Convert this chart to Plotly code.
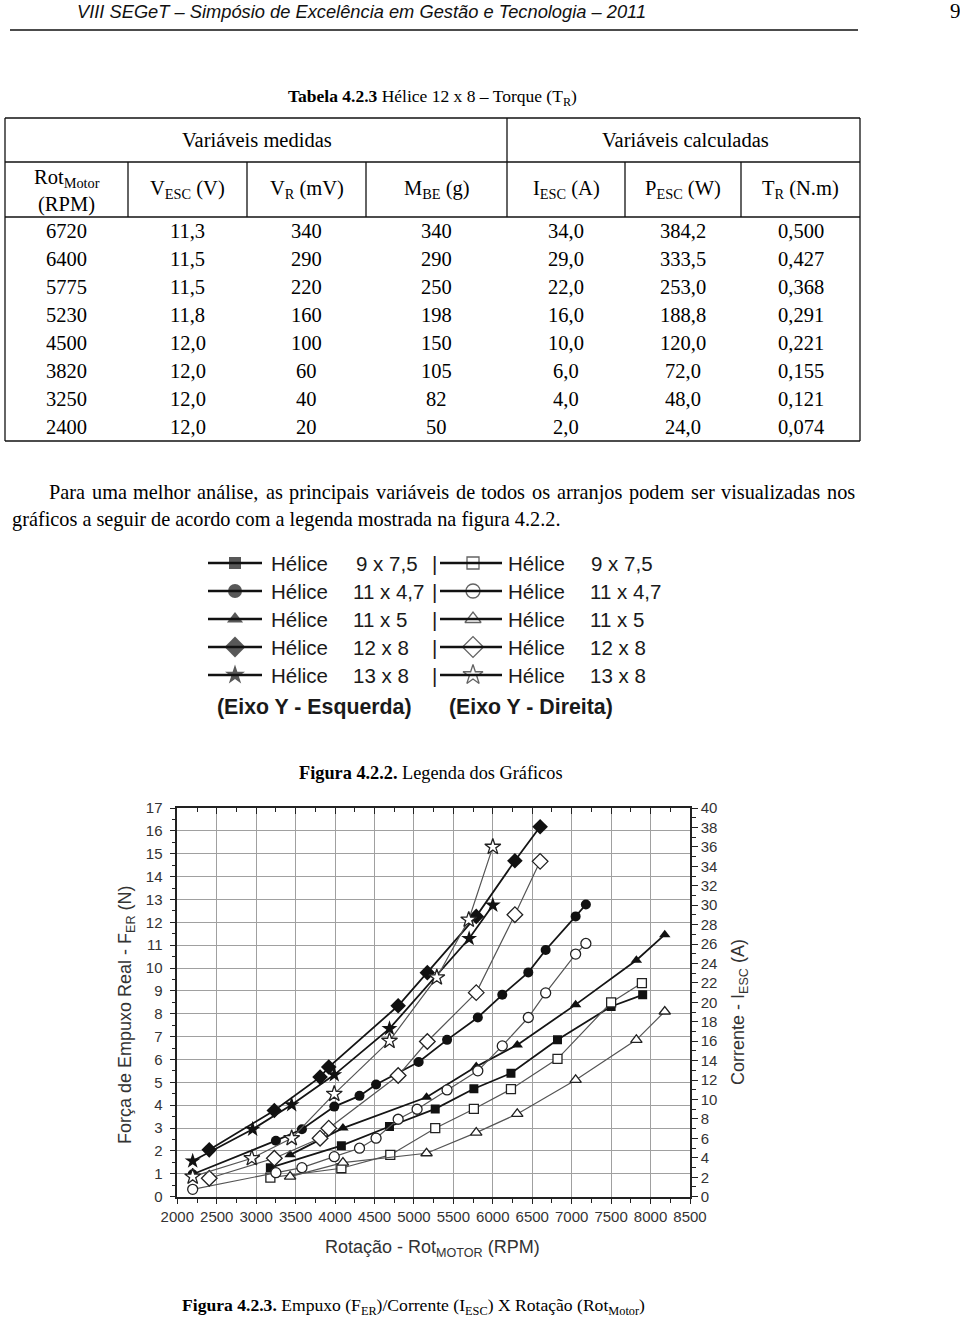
import plotly.graph_objects as go

W, H = 960, 1317
SERIF = "Liberation Serif"
SANS = "Liberation Sans"

# ---------------- Tabela 4.2.3 data ----------------
rot_motor = ["6720", "6400", "5775", "5230", "4500", "3820", "3250", "2400"]
v_esc = ["11,3", "11,5", "11,5", "11,8", "12,0", "12,0", "12,0", "12,0"]
v_r = ["340", "290", "220", "160", "100", "60", "40", "20"]
m_be = ["340", "290", "250", "198", "150", "105", "82", "50"]
i_esc = ["34,0", "29,0", "22,0", "16,0", "10,0", "6,0", "4,0", "2,0"]
p_esc = ["384,2", "333,5", "253,0", "188,8", "120,0", "72,0", "48,0", "24,0"]
t_r = ["0,500", "0,427", "0,368", "0,291", "0,221", "0,155", "0,121", "0,074"]
col_headers = ["V<sub>ESC</sub> (V)", "V<sub>R</sub> (mV)", "M<sub>BE</sub> (g)",
               "I<sub>ESC</sub> (A)", "P<sub>ESC</sub> (W)", "T<sub>R</sub> (N.m)"]

# ---------------- Figure 4.2.3 data ----------------
# Force (N) - left axis (filled markers)
rpm_9x75 = [3180, 4080, 4690, 5270, 5760, 6230, 6820, 7500, 7900]
f_9x75 = [1.27, 2.23, 3.07, 3.84, 4.72, 5.40, 6.86, 8.32, 8.83]
rpm_11x47 = [2195, 3250, 3580, 3990, 4310, 4520, 5060, 5420, 5810, 6120, 6450, 6670, 7050, 7180]
f_11x47 = [0.98, 2.45, 2.95, 3.94, 4.41, 4.91, 5.89, 6.86, 7.84, 8.83, 9.81, 10.79, 12.26, 12.78]
rpm_11x5 = [3430, 4100, 5160, 5790, 6310, 7050, 7820, 8180]
f_11x5 = [1.83, 3.00, 4.35, 5.69, 6.64, 8.40, 10.34, 11.46]
rpm_12x8 = [2405, 3230, 3810, 3920, 4800, 5170, 5790, 6280, 6600]
f_12x8 = [2.05, 3.77, 5.23, 5.67, 8.35, 9.80, 12.26, 14.69, 16.18]
rpm_13x8 = [2195, 2955, 3450, 3990, 4690, 5700, 6000]
f_13x8 = [1.56, 2.95, 4.02, 5.33, 7.35, 11.29, 12.75]

# Current (A) - right axis (open markers)
rpm_9x75_i = [3180, 4080, 4700, 5270, 5760, 6230, 6820, 7500, 7890]
i_9x75 = [1.96, 2.93, 4.30, 7.05, 9.03, 11.06, 14.19, 19.99, 21.98]
rpm_11x47_i = [2195, 3250, 3580, 3990, 4310, 4520, 4800, 5040, 5420, 5810, 6120, 6450, 6670, 7050, 7180]
i_11x47 = [0.76, 2.47, 2.99, 4.12, 4.99, 6.02, 7.97, 9.00, 10.99, 12.95, 15.52, 18.44, 20.97, 24.97, 26.06]
rpm_11x5_i = [3430, 4100, 5160, 5790, 6310, 7050, 7820, 8180]
i_11x5 = [2.06, 3.50, 4.47, 6.59, 8.52, 12.02, 16.14, 19.06]
rpm_12x8_i = [2405, 3230, 3810, 3920, 4800, 5170, 5790, 6280, 6600]
i_12x8 = [1.90, 3.96, 6.02, 7.05, 12.47, 15.97, 21.0, 29.02, 34.51]
rpm_13x8_i = [2195, 2945, 3450, 3990, 4690, 5290, 5695, 6000]
i_13x8 = [2.06, 3.96, 6.02, 10.58, 16.04, 22.56, 28.5, 36.0]

helice_labels = ["9 x 7,5", "11 x 4,7", "11 x 5", "12 x 8", "13 x 8"]
symbols = ["square", "circle", "triangle-up", "diamond", "star"]
sizes = [9, 10, 10, 12, 12]

paragraph_line1 = ("Para uma melhor análise, as principais variáveis de todos os arranjos "
                   "podem ser visualizadas nos")
paragraph_line2 = "gráficos a seguir de acordo com a legenda mostrada na figura 4.2.2."

force_series = [(rpm_9x75, f_9x75), (rpm_11x47, f_11x47), (rpm_11x5, f_11x5),
                (rpm_12x8, f_12x8), (rpm_13x8, f_13x8)]
current_series = [(rpm_9x75_i, i_9x75), (rpm_11x47_i, i_11x47), (rpm_11x5_i, i_11x5),
                  (rpm_12x8_i, i_12x8), (rpm_13x8_i, i_13x8)]

# ---------------- layout geometry (pixels) ----------------
PX0, PX1 = 177.3, 690.0      # plot left/right
PY0, PY1 = 808.0, 1196.7     # plot top/bottom

fig = go.Figure()

for (rx, fy), lab, sym, sz in zip(force_series, helice_labels, symbols, sizes):
    fig.add_trace(go.Scatter(
        x=rx, y=fy, mode="lines+markers", name="F " + lab,
        xaxis="x", yaxis="y",
        line=dict(color="#151515", width=1.8),
        marker=dict(symbol=sym, size=sz, color="#111111", line=dict(width=0)),
    ))

for (rx, iy), lab, sym, sz in zip(current_series, helice_labels, symbols, sizes):
    fig.add_trace(go.Scatter(
        x=rx, y=iy, mode="lines+markers", name="I " + lab,
        xaxis="x", yaxis="y2",
        line=dict(color="#555555", width=1.2),
        marker=dict(symbol=sym, size=sz, color="white", line=dict(color="#222222", width=1.3)),
    ))

# dummy trace for top tick axis
fig.add_trace(go.Scatter(x=[None], y=[None], xaxis="x2", yaxis="y", showlegend=False))

# ---------------- legend figure (Figura 4.2.2) markers ----------------
leg_rows = [563, 591, 619, 647, 675]
fig.add_trace(go.Scatter(
    x=[235] * 5, y=leg_rows, mode="markers", xaxis="x3", yaxis="y3",
    marker=dict(symbol=symbols, size=[12, 14, 14, 16, 15], color="#111111", line=dict(width=0)),
))
fig.add_trace(go.Scatter(
    x=[473] * 5, y=leg_rows, mode="markers", xaxis="x3", yaxis="y3",
    marker=dict(symbol=symbols, size=[12, 14, 14, 16, 15], color="white",
                line=dict(color="#222222", width=1.3)),
))

tickfont = dict(family=SANS, size=15, color="#333333")
fig.update_layout(
    width=W, height=H, autosize=False,
    margin=dict(l=0, r=0, t=0, b=0, pad=0, autoexpand=False),
    paper_bgcolor="white", plot_bgcolor="rgba(0,0,0,0)", showlegend=False,
    xaxis=dict(domain=[PX0 / W, PX1 / W], range=[2000, 8500], tick0=2000, dtick=500,
               anchor="y", ticks="outside", ticklen=6, tickcolor="#222", tickwidth=1.2,
               showline=True, linecolor="#222", linewidth=1.5, mirror=True,
               showgrid=True, gridcolor="#a0a0a0", gridwidth=1, zeroline=False,
               minor=dict(dtick=250, ticks="outside", ticklen=5, tickcolor="#222", showgrid=False),
               tickfont=tickfont, automargin=False),
    xaxis2=dict(overlaying="x", side="top", anchor="y", range=[2000, 8500], tick0=2000, dtick=500,
                ticks="inside", ticklen=6, tickcolor="#222", showticklabels=False,
                showgrid=False, zeroline=False, showline=False, automargin=False,
                minor=dict(dtick=250, ticks="inside", ticklen=4, tickcolor="#222")),
    yaxis=dict(domain=[1 - PY1 / H, 1 - PY0 / H], range=[0, 17], dtick=1, anchor="x",
               ticks="outside", ticklen=6, tickcolor="#222", tickwidth=1.2,
               showline=True, linecolor="#222", linewidth=1.5,
               showgrid=True, gridcolor="#a0a0a0", gridwidth=1, zeroline=False,
               minor=dict(dtick=0.5, ticks="outside", ticklen=4, tickcolor="#222", showgrid=False),
               tickfont=tickfont, automargin=False, ticklabelstandoff=4),
    yaxis2=dict(overlaying="y", side="right", anchor="x", range=[0, 40], dtick=2,
                ticks="outside", ticklen=6, tickcolor="#222", tickwidth=1.2,
                showline=True, linecolor="#222", linewidth=1.5,
                showgrid=False, zeroline=False, automargin=False,
                minor=dict(dtick=1, ticks="outside", ticklen=4, tickcolor="#222"),
                tickfont=tickfont),
    xaxis3=dict(domain=[0, 1], range=[0, W], anchor="y3", visible=False, fixedrange=True,
                automargin=False),
    yaxis3=dict(domain=[0, 1], range=[H, 0], anchor="x3", visible=False, fixedrange=True,
                automargin=False),
)

shapes = []
ann = []


def line(x0, y0, x1, y1, w=1.3, c="#111"):
    shapes.append(dict(type="line", xref="x3", yref="y3", x0=x0, y0=y0, x1=x1, y1=y1,
                       line=dict(color=c, width=w)))


def text(x, y, s, size=20, family=SERIF, xanchor="center", color="#000", angle=0):
    ann.append(dict(xref="x3", yref="y3", x=x, y=y, text=s, showarrow=False,
                    xanchor=xanchor, yanchor="middle", textangle=angle,
                    font=dict(family=family, size=size, color=color)))


# header
text(75, 11, "<i>VIII SEGeT – Simpósio de Excelência em Gestão e Tecnologia – 2011</i>",
     size=18.3, family=SANS, xanchor="left", color="#111")
text(955, 11, "9", size=21, family=SERIF)
line(10, 30, 858, 30, w=1.5)

# table title
text(432, 97, "<b>Tabela 4.2.3</b> Hélice 12 x 8 – Torque (T<sub>R</sub>)", size=17.5)

# table grid
TF = 20.5
TL, TR_, TT, TB = 5, 860, 118, 441
col_x = [TL, 128, 247, 366, 507, 625, 741, TR_]
line(TL, TT, TR_, TT)
line(TL, 162, TR_, 162)
line(TL, 217, TR_, 217)
line(TL, TB, TR_, TB)
line(TL, TT, TL, TB)
line(TR_, TT, TR_, TB)
line(507, TT, 507, 162)
for cx in col_x[1:-1]:
    line(cx, 162, cx, 217)

text(257, 140, "Variáveis medidas", size=TF)
text(685, 140, "Variáveis calculadas", size=TF)
centers = [(col_x[i] + col_x[i + 1]) / 2 for i in range(7)]
text(centers[0], 178, "Rot<sub>Motor</sub>", size=TF)
text(centers[0], 204, "(RPM)", size=TF)
for cxx, h in zip(centers[1:], col_headers):
    text(cxx, 189, h, size=TF)
table_cols = [rot_motor, v_esc, v_r, m_be, i_esc, p_esc, t_r]
for r in range(len(rot_motor)):
    for c in range(7):
        text(centers[c], 231 + 28 * r, table_cols[c][r], size=TF)

# paragraph (first line justified between 47 and 853)
PF = 20.3
TIMES_W = {' ': 250, ',': 250, '.': 250, 'a': 444, 'á': 444, 'b': 500, 'c': 444, 'd': 500,
           'e': 444, 'f': 333, 'g': 500, 'h': 500, 'i': 278, 'j': 278, 'l': 278, 'm': 778,
           'n': 500, 'o': 500, 'p': 500, 'q': 500, 'r': 333, 's': 389, 't': 278, 'u': 500,
           'v': 500, 'x': 500, 'z': 444, 'P': 556}


def tw(s, size):
    return sum(TIMES_W.get(ch, 500) for ch in s) * size / 1000.0


words = paragraph_line1.split(" ")
wsum = sum(tw(wd, PF) for wd in words)
gap = (853 - 47 - wsum) / (len(words) - 1)
xx = 47
for wd in words:
    text(xx, 492, wd, size=PF, xanchor="left")
    xx += tw(wd, PF) + gap
text(10, 519, paragraph_line2, size=PF, xanchor="left")

# legend figure
LF = 20.5
for y, lab in zip(leg_rows, helice_labels):
    line(208, y, 262, y, w=2.5)
    line(440, y, 502, y, w=2.5)
    text(269, y, "Hélice", size=LF, family=SANS, xanchor="left", color="#1a1a1a")
    text(506, y, "Hélice", size=LF, family=SANS, xanchor="left", color="#1a1a1a")
    if lab == "9 x 7,5":
        text(420, y, lab, size=LF, family=SANS, xanchor="right", color="#1a1a1a")
        text(655, y, lab, size=LF, family=SANS, xanchor="right", color="#1a1a1a")
    else:
        text(351, y, lab, size=LF, family=SANS, xanchor="left", color="#1a1a1a")
        text(588, y, lab, size=LF, family=SANS, xanchor="left", color="#1a1a1a")
    text(434, y, "|", size=LF, family=SANS, color="#1a1a1a")
text(314, 707, "<b>(Eixo Y - Esquerda)</b>", size=21.3, family=SANS, color="#1a1a1a")
text(531, 707, "<b>(Eixo Y - Direita)</b>", size=21.3, family=SANS, color="#1a1a1a")

text(431, 773, "<b>Figura 4.2.2.</b> Legenda dos Gráficos", size=18.3)

# chart axis titles
text(432, 1248, "Rotação - Rot<sub>MOTOR</sub> (RPM)", size=18, family=SANS, color="#333")
text(126, 1015, "Força de Empuxo Real - F<sub>ER</sub> (N)", size=18, family=SANS, color="#333", angle=-90)
text(739, 1012, "Corrente - I<sub>ESC</sub> (A)", size=18, family=SANS, color="#333", angle=-90)

# caption
text(180, 1306, "<b>Figura 4.2.3.</b> Empuxo (F<sub>ER</sub>)/Corrente (I<sub>ESC</sub>) X Rotação (Rot<sub>Motor</sub>)",
     size=17.6, xanchor="left")

fig.update_layout(shapes=shapes, annotations=ann)
fig.write_html("out.html")
